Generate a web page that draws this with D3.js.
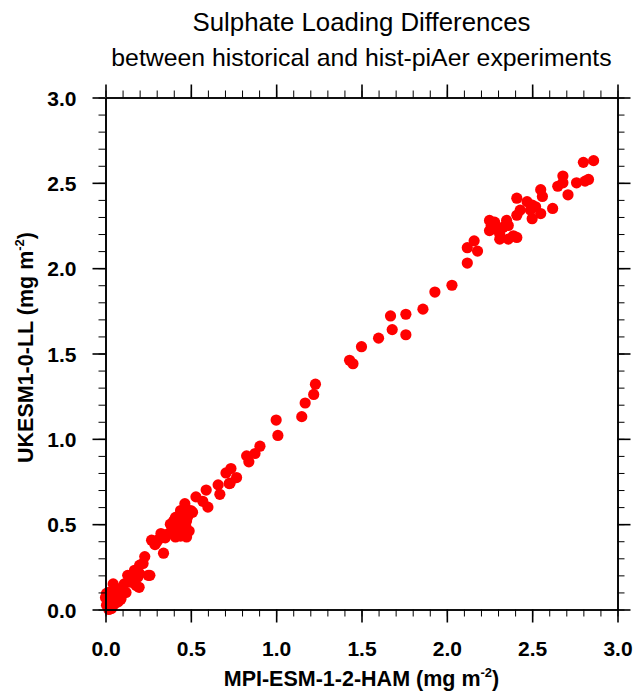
<!DOCTYPE html>
<html>
<head>
<meta charset="utf-8">
<script src="https://cdn.jsdelivr.net/npm/d3@7"></script>
<style>
  body { margin: 0; background: #fff; }
  svg { display: block; }
  text { font-family: "Liberation Sans", Arial, Helvetica, sans-serif; }
</style>
</head>
<body>
<svg width="635" height="693"></svg>
<script>
const svg = d3.select("svg");

// MPI-ESM-1-2-HAM (x) vs UKESM1-0-LL (y), mg m-2
const mpiValues = [
  0.00, 0.006, 0.035, 0.025, 0.006, 0.025, 0.02, 0.045, 0.065, 0.074,
  0.094, 0.10, 0.12, 0.074, 0.055, 0.13, 0.15, 0.16, 0.17, 0.18,
  0.197, 0.20, 0.20, 0.22, 0.23, 0.25, 0.26, 0.27, 0.30, 0.325,
  0.34, 0.39, 0.40, 0.41, 0.41, 0.41, 0.43, 0.43, 0.445, 0.46,
  0.465, 0.475, 0.475, 0.49, 0.49, 0.50, 0.51, 0.53, 0.57, 0.59,
  0.60, 0.66, 0.67, 0.706, 0.725, 0.735, 0.768, 0.73, 0.827, 0.84,
  0.876, 0.905, 1.00, 1.01, 1.15, 1.17, 1.22, 1.23, 1.43, 1.45,
  1.50, 1.60, 1.67, 1.68, 1.76, 1.76, 1.86, 1.93, 2.03, 2.12,
  2.12, 2.16, 2.18, 2.25, 2.26, 2.28, 2.25, 2.28, 2.31, 2.31,
  2.33, 2.35, 2.36, 2.36, 2.39, 2.41, 2.41, 2.43, 2.41, 2.47,
  2.49, 2.50, 2.50, 2.52, 2.55, 2.55, 2.56, 2.62, 2.65, 2.68,
  2.68, 2.71, 2.76, 2.81, 2.83, 2.80, 2.86,
  0.36, 0.38, 0.42, 0.44, 0.45, 0.47, 0.39, 0.48, 0.44, 0.42,
  0.08, 0.11, 0.14, 0.19, 0.03, 0.05, 0.09, 0.02, 0.31, 0.29, 0.35
];
const ukesmValues = [
  0.07, 0.025, 0.006, 0.055, 0.094, 0.035, 0.00, 0.15, 0.10, 0.045,
  0.08, 0.13, 0.10, 0.064, 0.12, 0.20, 0.16, 0.20, 0.23, 0.14,
  0.13, 0.21, 0.26, 0.27, 0.31, 0.20, 0.20, 0.406, 0.396, 0.445,
  0.33, 0.48, 0.52, 0.54, 0.50, 0.425, 0.55, 0.46, 0.51, 0.47,
  0.62, 0.52, 0.425, 0.56, 0.46, 0.58, 0.57, 0.66, 0.634, 0.70,
  0.60, 0.73, 0.675, 0.80, 0.738, 0.826, 0.773, 0.74, 0.90, 0.865,
  0.914, 0.957, 1.11, 1.02, 1.13, 1.21, 1.26, 1.32, 1.46, 1.44,
  1.54, 1.59, 1.72, 1.64, 1.73, 1.61, 1.76, 1.86, 1.90, 2.03,
  2.12, 2.16, 2.10, 2.28, 2.25, 2.27, 2.22, 2.23, 2.20, 2.17,
  2.24, 2.28, 2.25, 2.17, 2.19, 2.18, 2.31, 2.34, 2.41, 2.39,
  2.34, 2.37, 2.29, 2.36, 2.32, 2.46, 2.42, 2.35, 2.48, 2.50,
  2.54, 2.43, 2.50, 2.51, 2.52, 2.62, 2.63,
  0.44, 0.50, 0.48, 0.43, 0.53, 0.49, 0.45, 0.54, 0.58, 0.52,
  0.12, 0.15, 0.18, 0.19, 0.08, 0.03, 0.06, 0.10, 0.41, 0.38, 0.42
];
const majorTicks = [0, 0.5, 1.0, 1.5, 2.0, 2.5, 3.0];
const minorTicks = d3.range(0, 31).map(i => i / 10);

const title = "Sulphate Loading Differences";
const subtitle = "between historical and hist-piAer experiments";

const data = mpiValues.map((x, i) => ({ x, y: ukesmValues[i] }));

const margin = { top: 97.5, left: 105.5 };
const size = 512;

const xScale = d3.scaleLinear().domain([0, 3]).range([0, size]);
const yScale = d3.scaleLinear().domain([0, 3]).range([size, 0]);

const g = svg.append("g")
  .attr("transform", `translate(${margin.left},${margin.top})`);

// titles
svg.append("text")
  .attr("x", margin.left + size / 2)
  .attr("y", 31)
  .attr("text-anchor", "middle")
  .attr("font-size", 25.8)
  .text(title);

svg.append("text")
  .attr("x", margin.left + size / 2)
  .attr("y", 66)
  .attr("text-anchor", "middle")
  .attr("font-size", 24.8)
  .text(subtitle);

// points
g.append("g").selectAll("circle").data(data)
  .enter().append("circle")
    .attr("cx", d => xScale(d.x))
    .attr("cy", d => yScale(d.y))
    .attr("r", 5.6)
    .attr("fill", "#ff0000");

// axes: minor + major on every side, ticks pointing out
const styleAxis = (sel, width) => {
  sel.selectAll(".domain").attr("stroke", "#000").attr("stroke-width", 1.6);
  sel.selectAll(".tick line").attr("stroke", "#000").attr("stroke-width", width);
};

const addAxis = (axisFn, scale, transform, showLabels) => {
  const minor = g.append("g").attr("transform", transform)
    .call(axisFn(scale).tickValues(minorTicks).tickSize(7).tickSizeOuter(0).tickFormat(""));
  styleAxis(minor, 1);
  const major = g.append("g").attr("transform", transform)
    .call(axisFn(scale).tickValues(majorTicks).tickSize(13).tickSizeOuter(0)
      .tickFormat(showLabels ? d3.format(".1f") : ""));
  styleAxis(major, 1.6);
  return major;
};

const xAxisG = addAxis(d3.axisBottom, xScale, `translate(0,${size})`, true);
xAxisG.selectAll(".tick text")
  .attr("font-family", "Liberation Sans, Arial, sans-serif")
  .attr("font-size", 21)
  .attr("font-weight", "bold")
  .attr("fill", "#000")
  .attr("dy", 0)
  .attr("y", 46);

const yAxisG = addAxis(d3.axisLeft, yScale, "translate(0,0)", true);
yAxisG.selectAll(".tick text")
  .attr("font-family", "Liberation Sans, Arial, sans-serif")
  .attr("font-size", 21)
  .attr("font-weight", "bold")
  .attr("fill", "#000")
  .attr("x", -29)
  .attr("dy", "0.36em");

addAxis(d3.axisTop, xScale, "translate(0,0)", false);
addAxis(d3.axisRight, yScale, `translate(${size},0)`, false);

// axis titles
const xTitle = svg.append("text")
  .attr("x", margin.left + size / 2)
  .attr("y", 686)
  .attr("text-anchor", "middle")
  .attr("font-size", 21.5)
  .attr("font-weight", "bold");
xTitle.append("tspan").text("MPI-ESM-1-2-HAM (mg m");
xTitle.append("tspan").text("-2").attr("font-size", 13).attr("dy", -9);
xTitle.append("tspan").text(")").attr("dy", 9);

const yTitle = svg.append("text")
  .attr("transform", `translate(33,${margin.top + size / 2 - 6}) rotate(-90)`)
  .attr("text-anchor", "middle")
  .attr("font-size", 21.5)
  .attr("font-weight", "bold");
yTitle.append("tspan").text("UKESM1-0-LL (mg m");
yTitle.append("tspan").text("-2").attr("font-size", 13).attr("dy", -9);
yTitle.append("tspan").text(")").attr("dy", 9);
</script>
</body>
</html>
